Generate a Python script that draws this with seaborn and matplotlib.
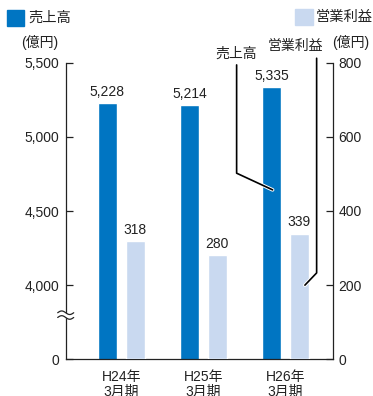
import matplotlib
matplotlib.use("Agg")
import matplotlib.pyplot as plt
import matplotlib.patheffects as pe
from matplotlib.patches import Rectangle
import numpy as np
import pandas as pd
import seaborn as sns

# Data
periods = ["H24年\n3月期", "H25年\n3月期", "H26年\n3月期"]
sales = [5228, 5214, 5335]          # 売上高 (億円), left axis
profit = [318, 280, 339]            # 営業利益 (億円), right axis
series = ["売上高", "営業利益"]
left_ticks = [3500, 4000, 4500, 5000, 5500]   # 3500 sits on the broken baseline
left_labels = ["0", "4,000", "4,500", "5,000", "5,500"]
right_ticks = [0, 200, 400, 600, 800]
right_labels = ["0", "200", "400", "600", "800"]

colors = {"売上高": "#0075C2", "営業利益": "#C9D9F0"}
INK = "#222222"
W, H = 373, 396

sns.set_theme(style="white")
plt.rcParams["font.family"] = ["Liberation Sans", "Noto Sans CJK JP"]
plt.rcParams["font.size"] = 10


def fx(px):
    return px / W


def fy(py):
    return 1 - py / H


fig = plt.figure(figsize=(W / 100, H / 100), dpi=100)
ax = fig.add_axes([fx(65.7), fy(359.3), fx(332.7) - fx(65.7), fy(62.7) - fy(359.3)])
ax2 = ax.twinx()

sales_df = pd.DataFrame({"期": periods, "系列": series[0], "値": sales})
profit_df = pd.DataFrame({"期": periods, "系列": series[1], "値": profit})

common = dict(x="期", y="値", hue="系列", hue_order=series, order=periods,
              palette=colors, width=0.68, gap=0.32, dodge=True,
              legend=False, saturation=1, errorbar=None)
sns.barplot(data=sales_df, ax=ax, **common)
sns.barplot(data=profit_df, ax=ax2, **common)


def label_bars(axis, values):
    bars = sorted([p for p in axis.patches if p.get_height() > 0],
                  key=lambda p: p.get_x())
    for p, v in zip(bars, values):
        axis.annotate(f"{v:,}", (p.get_x() + p.get_width() / 2, v),
                      xytext=(0, 3), textcoords="offset points",
                      ha="center", va="bottom", fontsize=10, color=INK)


label_bars(ax, sales)
label_bars(ax2, profit)

# Axes ranges and ticks
ax.set_ylim(left_ticks[0], left_ticks[-1])
ax.set_yticks(left_ticks, left_labels)
ax2.set_ylim(right_ticks[0], right_ticks[-1])
ax2.set_yticks(right_ticks, right_labels)
ax.set_xlim(-0.679, 2.578)

for a in (ax, ax2):
    a.set_xlabel("")
    a.set_ylabel("")
    for s in a.spines.values():
        s.set_visible(False)

for side in ("left", "bottom"):
    ax.spines[side].set_visible(True)
    ax.spines[side].set_color(INK)
    ax.spines[side].set_linewidth(0.9)
ax2.spines["right"].set_visible(True)
ax2.spines["right"].set_color(INK)
ax2.spines["right"].set_linewidth(0.9)

ax.tick_params(axis="y", direction="in", length=5, width=0.9, color=INK,
               pad=4.5, labelsize=10, labelcolor=INK, left=True)
ax2.tick_params(axis="y", direction="in", length=5, width=0.9, color=INK,
                pad=4, labelsize=10, labelcolor=INK, right=True)
ax.tick_params(axis="x", length=0, pad=8, labelsize=10, labelcolor=INK)
for t in ax.get_xticklabels():
    t.set_linespacing(1.05)

# Axis break mark on the left spine
yb = 0.149
xs = np.linspace(-0.03, 0.03, 40)
wave = 0.006 * np.sin((xs + 0.03) / 0.06 * 2 * np.pi)
ax.fill_between(xs, yb - 0.008 + wave, yb + 0.008 + wave, color="white",
                transform=ax.transAxes, clip_on=False, zorder=5, lw=0)
for off in (-0.008, 0.008):
    ax.plot(xs, yb + off + wave, color=INK, lw=0.9,
            transform=ax.transAxes, clip_on=False, zorder=6)

# Legend swatches and unit labels
fig.patches.append(Rectangle((fx(7), fy(26)), fx(17.5), fy(10) - fy(26),
                             transform=fig.transFigure, color=colors["売上高"]))
fig.patches.append(Rectangle((fx(295), fy(25)), fx(18), fy(9) - fy(25),
                             transform=fig.transFigure, color=colors["営業利益"]))
fig.text(fx(28), fy(18), "売上高", ha="left", va="center", fontsize=10.3, color=INK)
fig.text(fx(316), fy(17), "営業利益", ha="left", va="center", fontsize=10.3, color=INK)
fig.text(fx(40), fy(42), "(億円)", ha="center", va="center", fontsize=10, color=INK)
fig.text(fx(351), fy(42), "(億円)", ha="center", va="center", fontsize=10, color=INK)

# Callout labels with leader lines
fig.text(fx(236), fy(54), "売上高", ha="center", va="center", fontsize=10, color=INK)
fig.text(fx(295), fy(46), "営業利益", ha="center", va="center", fontsize=10, color=INK)
halo = [pe.withStroke(linewidth=2.6, foreground="white")]
ax2.plot([1.406, 1.406, 1.845], [794, 502, 457], color="black", lw=1.2,
         clip_on=False, zorder=7, path_effects=halo)
ax2.plot([2.382, 2.382, 2.239], [812, 233, 200], color="black", lw=1.2,
         clip_on=False, zorder=7, path_effects=halo)

fig.savefig("out.png", dpi=100)
